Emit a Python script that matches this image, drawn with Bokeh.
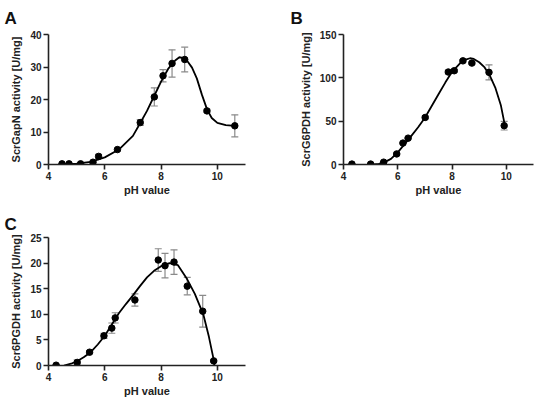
from bokeh.plotting import figure
from bokeh.layouts import column, row
from bokeh.models import ColumnDataSource, Whisker, TeeHead, FixedTicker, Range1d
from bokeh.embed import file_html
from bokeh.resources import INLINE

# ---- Panel A: ScrGapN ----
a_ph = [4.48, 4.73, 5.14, 5.58, 5.78, 6.45, 7.26, 7.76, 8.07, 8.39, 8.84, 9.63, 10.62]
a_act = [0.2, 0.2, 0.2, 0.7, 2.5, 4.6, 12.9, 20.8, 27.3, 31.1, 32.3, 16.5, 11.9]
a_err = [0.1, 0.1, 0.1, 0.3, 0.6, 0.4, 0.9, 2.8, 1.9, 4.2, 3.8, 0.5, 3.4]
a_fit_ph = [4.5, 5.0, 5.5, 6.0, 6.5, 7.0, 7.25, 7.5, 7.75, 8.0, 8.25, 8.5, 8.65, 8.8,
            8.95, 9.1, 9.27, 9.45, 9.64, 9.8, 10.0, 10.3, 10.62]
a_fit = [0.2, 0.3, 0.8, 2.2, 4.6, 8.8, 12.6, 16.5, 21.0, 25.5, 29.4, 32.0, 33.0, 32.7,
         31.6, 29.8, 26.5, 21.5, 16.8, 14.3, 12.8, 12.1, 11.9]

# ---- Panel B: ScrG6PDH ----
b_ph = [4.31, 5.0, 5.48, 5.96, 6.19, 6.38, 7.01, 7.86, 8.08, 8.40, 8.73, 9.36, 9.92]
b_act = [0.5, 0.5, 2.7, 12.2, 24.7, 30.4, 54.3, 106.7, 108.2, 119.6, 117.0, 106.3, 44.8]
b_err = [0.3, 0.3, 0.5, 1.0, 1.0, 1.0, 1.5, 2.0, 1.5, 1.5, 1.5, 8.7, 5.0]
b_fit_ph = [5.1, 5.3, 5.5, 5.75, 6.0, 6.25, 6.5, 6.75, 7.0, 7.25, 7.5, 7.75, 8.0, 8.3,
            8.5, 8.66, 8.8, 9.0, 9.2, 9.4, 9.6, 9.8, 9.94]
b_fit = [0.0, 0.8, 2.5, 6.5, 14.0, 23.5, 33.0, 43.0, 54.0, 67.5, 81.0, 94.5, 107.0, 117.0,
         121.0, 122.6, 121.8, 118.0, 112.0, 102.0, 88.0, 68.0, 46.0]

# ---- Panel C: Scr6PGDH ----
c_ph = [4.27, 5.02, 5.46, 5.97, 6.25, 6.37, 7.07, 7.90, 8.14, 8.46, 8.93, 9.48, 9.87]
c_act = [0.06, 0.6, 2.6, 5.8, 7.3, 9.3, 12.8, 20.6, 19.5, 20.2, 15.5, 10.6, 0.9]
c_err = [0.1, 0.5, 0.3, 0.5, 1.0, 1.0, 1.2, 2.2, 2.4, 2.4, 1.7, 3.1, 0.2]
c_fit_ph = [4.55, 4.8, 5.0, 5.25, 5.5, 5.75, 6.0, 6.25, 6.5, 6.75, 7.0, 7.25, 7.5, 7.75,
            8.0, 8.3, 8.6, 8.9, 9.2, 9.5, 9.7, 9.86, 9.9]
c_fit = [0.0, 0.35, 0.8, 1.6, 2.6, 4.1, 5.8, 8.0, 10.2, 12.0, 13.7, 15.5, 17.2, 18.5,
         19.4, 20.0, 19.6, 17.1, 14.0, 10.0, 5.6, 1.4, 0.0]

x_ticks = [4, 6, 8, 10]
a_yticks = [0, 10, 20, 30, 40]
b_yticks = [0, 50, 100, 150]
c_yticks = [0, 5, 10, 15, 20, 25]

FONT = "Liberation Sans"
ERR_COLOR = "#8a8a8a"


def panel(letter, ylabel, px, py, pe, fx, fy, ymax, yticks, width, height,
          bl, br, bt, bb, lx, tstand):
    p = figure(width=width, height=height, x_range=Range1d(4, 11),
               y_range=Range1d(0, ymax), output_backend="svg",
               toolbar_location=None, min_border_left=bl, min_border_right=br,
               min_border_top=bt, min_border_bottom=bb)
    p.outline_line_color = None
    p.xgrid.grid_line_color = None
    p.ygrid.grid_line_color = None
    p.xaxis.ticker = FixedTicker(ticks=x_ticks, minor_ticks=[])
    p.yaxis.ticker = FixedTicker(ticks=yticks, minor_ticks=[])
    p.xaxis.axis_label = "pH value"
    p.yaxis.axis_label = ylabel
    for ax in (p.xaxis[0], p.yaxis[0]):
        ax.axis_line_width = 1.6
        ax.axis_line_color = "#222222"
        ax.major_tick_line_width = 1.6
        ax.major_tick_line_color = "#222222"
        ax.major_tick_out = 5
        ax.major_tick_in = 0
        ax.minor_tick_out = 0
        ax.minor_tick_in = 0
        ax.major_label_text_font = FONT
        ax.major_label_text_font_style = "bold"
        ax.major_label_text_font_size = "10px"
        ax.major_label_text_color = "#222222"
        ax.axis_label_text_font = FONT
        ax.axis_label_text_font_style = "bold"
        ax.axis_label_text_font_size = "11px"
        ax.axis_label_text_color = "#222222"
    p.xaxis.major_label_standoff = 2
    p.xaxis.axis_label_standoff = 1
    p.yaxis.major_label_standoff = 2
    p.yaxis.axis_label_standoff = 5

    p.title.text = letter
    p.title.text_font = FONT
    p.title.text_font_style = "bold"
    p.title.text_font_size = "17px"
    p.title.text_color = "#111111"
    p.title.align = "left"
    p.title.offset = lx - bl
    p.title.standoff = tstand

    src = ColumnDataSource(dict(x=px, y=py,
                                lo=[v - e for v, e in zip(py, pe)],
                                hi=[v + e for v, e in zip(py, pe)]))
    w = Whisker(base="x", lower="lo", upper="hi", source=src,
                line_color=ERR_COLOR, line_width=1.2,
                lower_head=TeeHead(size=7, line_color=ERR_COLOR, line_width=1.2),
                upper_head=TeeHead(size=7, line_color=ERR_COLOR, line_width=1.2))
    p.add_layout(w)
    p.line(fx, fy, line_color="black", line_width=1.8)
    p.scatter("x", "y", source=src, size=6.5, marker="circle",
              fill_color="black", line_color="black")
    return p


pA = panel("A", "ScrGapN activity [U/mg]", a_ph, a_act, a_err, a_fit_ph, a_fit,
           40, a_yticks, 270, 198, 48, 25, 33, 34, 4, 13)
pB = panel("B", "ScrG6PDH activity [U/mg]", b_ph, b_act, b_err, b_fit_ph, b_fit,
           150, b_yticks, 264, 198, 73, 1, 33, 34, 20, 13)
pC = panel("C", "Scr6PGDH activity [U/mg]", c_ph, c_act, c_err, c_fit_ph, c_fit,
           25, c_yticks, 270, 201, 48, 25, 39, 34, 4, 7)

layout = column(row(pA, pB), row(pC))
open("out.html", "w").write(file_html(layout, INLINE))
